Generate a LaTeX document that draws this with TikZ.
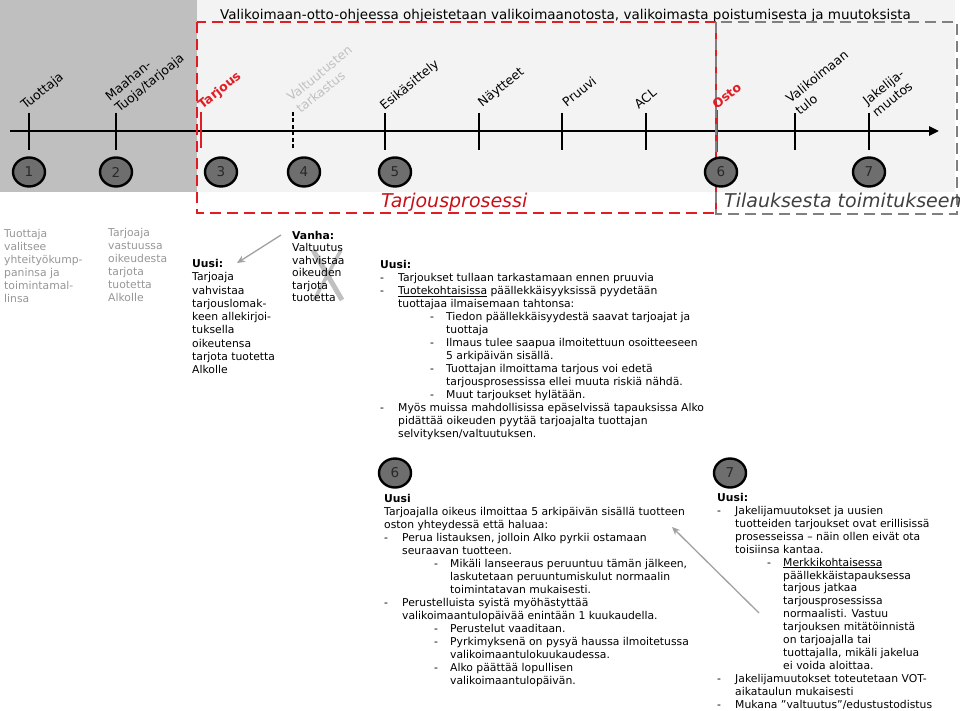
\documentclass[tikz,border=0pt]{standalone}
\usepackage{fontspec}
\setmainfont{DejaVu Sans}
\usetikzlibrary{arrows.meta,shapes.geometric}
\definecolor{bgdark}{RGB}{191,191,191}
\definecolor{bglight}{RGB}{243,243,243}
\definecolor{redl}{RGB}{226,28,36}
\definecolor{redt}{RGB}{200,16,24}
\definecolor{grayd}{RGB}{128,128,128}
\definecolor{lighttxt}{RGB}{150,150,150}
\definecolor{paletxt}{RGB}{192,192,192}
\definecolor{circfill}{RGB}{110,110,110}
\definecolor{numtxt}{RGB}{40,40,40}
\definecolor{tilgray}{RGB}{64,64,64}
\definecolor{arrgray}{RGB}{160,160,160}
\newcommand\bdash{\makebox[18pt][l]{-}}
\newcommand\bcont{\hspace*{18pt}}
\newcommand\cdash{\hspace*{50pt}\makebox[16pt][l]{-}}
\newcommand\ccont{\hspace*{66pt}}
\tikzset{
  tickline/.style={line width=2.2pt},
  reddash/.style={draw=redl,line width=2.7pt,dash pattern=on 11pt off 6pt},
  graydash/.style={draw=grayd,line width=2.7pt,dash pattern=on 11pt off 6pt},
  circ/.style={ellipse,draw=black,line width=2.4pt,fill=circfill,minimum width=32pt,minimum height=29pt,inner sep=0pt,text=numtxt,font=\fontsize{13.5}{15}\selectfont},
  tl/.style={anchor=south west,inner sep=0pt,rotate=39,align=left,font=\fontsize{12.5}{15}\selectfont},
  body/.style={anchor=north west,inner sep=0pt,align=left,font=\fontsize{10.8}{13}\selectfont},
  bigit/.style={anchor=base west,inner sep=0pt,font=\fontsize{19}{22}\selectfont\itshape},
  grayarrow/.style={draw=arrgray,line width=1.3pt,-{Stealth[length=8pt,width=7pt]}}
}
\begin{document}
\begin{tikzpicture}[x=1pt,y=-1pt]
\useasboundingbox (0,0) rectangle (960,711);
% backgrounds
\fill[bgdark] (0,0) rectangle (197,192);
\fill[bglight] (197,0) rectangle (955,192);
% header
\node[anchor=base west,inner sep=0pt,font=\fontsize{13.5}{16}\selectfont] (hdr) at (220,20) {Valikoimaan-otto-ohjeessa ohjeistetaan valikoimaanotosta, valikoimasta poistumisesta ja muutoksista};
% timeline
\coordinate (tl0) at (10,131);
\coordinate (tl1) at (939,131);
\draw[line width=2.6pt,-{Triangle[length=10pt,width=9pt]}] (tl0) -- (tl1);
\foreach \x/\n in {29/a,116/b,385/e,479/f,562/g,646/h,795/j,869/k}{
  \coordinate (ta\n) at (\x,113);
  \coordinate (tb\n) at (\x,150);
  \draw[tickline] (ta\n) -- (tb\n);
}
\coordinate (tac) at (201,112); \coordinate (tbc) at (201,148);
\draw[tickline,draw=redl] (tac) -- (tbc);
\coordinate (tad) at (293,112); \coordinate (tbd) at (293,150);
\draw[line width=1.8pt,dash pattern=on 4pt off 2.5pt] (tad) -- (tbd);
\coordinate (tai) at (717,110); \coordinate (tbi) at (717,152);
\draw[tickline,draw=redl] (tai) -- (tbi);
% dashed boxes
\draw[reddash] (197,22) rectangle (716,213);
\draw[graydash] (716,22) rectangle (957,214);
% timeline labels
\node[tl] (l1) at (27,112) {Tuottaja};
\node[tl] (l2) at (121,115) {Maahan-\\Tuoja/tarjoaja};
\node[tl,text=redl,font=\fontsize{12.5}{15}\selectfont\bfseries] (l3) at (204,112) {Tarjous};
\node[tl,text=paletxt] (l4) at (301,114) {Valtuutusten\\tarkastus};
\node[tl] (l5) at (386,113) {Esikäsittely};
\node[tl] (l6) at (484,110) {Näytteet};
\node[tl] (l7) at (567,108) {Pruuvi};
\node[tl] (l8) at (639,110) {ACL};
\node[tl,text=redl,font=\fontsize{12.5}{15}\selectfont\bfseries] (l9) at (717,110) {Osto};
\node[tl] (l10) at (800,116) {Valikoimaan\\tulo};
\node[tl] (l11) at (877,118) {Jakelija-\\muutos};
% circles
\node[circ] (c1) at (29,172) {1};
\node[circ] (c2) at (116,172) {2};
\node[circ] (c3) at (221,172) {3};
\node[circ] (c4) at (304,172) {4};
\node[circ] (c5) at (395,172) {5};
\node[circ] (c6) at (721,172) {6};
\node[circ] (c7) at (869,172) {7};
% section titles
\node[bigit,text=redt] (tp) at (381,208) {Tarjousprosessi};
\node[bigit,text=tilgray] (tt) at (724,208) {Tilauksesta toimitukseen};
% left columns
\node[body,text=lighttxt] (lc1) at (4,229) {Tuottaja\\valitsee\\yhteityökump-\\paninsa ja\\toimintamal-\\linsa};
\node[body,text=lighttxt] (lc2) at (108,228) {Tarjoaja\\vastuussa\\oikeudesta\\tarjota\\tuotetta\\Alkolle};
% X behind Vanha
\draw[paletxt,line width=5pt] (313,250) -- (342,300);
\draw[paletxt,line width=3.5pt] (341,250) -- (314,300);
\node[body,font=\fontsize{10.8}{13.3}\selectfont] (uusi3) at (192,259) {\textbf{Uusi:}\\Tarjoaja\\vahvistaa\\tarjouslomak-\\keen allekirjoi-\\tuksella\\oikeutensa\\tarjota tuotetta\\Alkolle};
\node[body,font=\fontsize{10.8}{12.5}\selectfont] (vanha) at (292,231) {\textbf{Vanha:}\\Valtuutus\\vahvistaa\\oikeuden\\tarjota\\tuotetta};
\coordinate (va0) at (281,235);
\coordinate (va1) at (237,263);
\draw[grayarrow] (va0) -- (va1);
% middle block
\node[body] (mid) at (380,260) {\textbf{Uusi:}\\
\bdash Tarjoukset tullaan tarkastamaan ennen pruuvia\\
\bdash \underline{Tuotekohtaisissa} päällekkäisyyksissä pyydetään\\
\bcont tuottajaa ilmaisemaan tahtonsa:\\
\cdash Tiedon päällekkäisyydestä saavat tarjoajat ja\\
\ccont tuottaja\\
\cdash Ilmaus tulee saapua ilmoitettuun osoitteeseen\\
\ccont 5 arkipäivän sisällä.\\
\cdash Tuottajan ilmoittama tarjous voi edetä\\
\ccont tarjousprosessissa ellei muuta riskiä nähdä.\\
\cdash Muut tarjoukset hylätään.\\
\bdash Myös muissa mahdollisissa epäselvissä tapauksissa Alko\\
\bcont pidättää oikeuden pyytää tarjoajalta tuottajan\\
\bcont selvityksen/valtuutuksen.};
% bottom circles
\node[circ] (b6) at (395,473) {6};
\node[circ] (b7) at (730,473) {7};
% block 6
\node[body] (blk6) at (384,494) {\textbf{Uusi}\\
Tarjoajalla oikeus ilmoittaa 5 arkipäivän sisällä tuotteen\\
oston yhteydessä että haluaa:\\
\bdash Perua listauksen, jolloin Alko pyrkii ostamaan\\
\bcont seuraavan tuotteen.\\
\cdash Mikäli lanseeraus peruuntuu tämän jälkeen,\\
\ccont laskutetaan peruuntumiskulut normaalin\\
\ccont toimintatavan mukaisesti.\\
\bdash Perustelluista syistä myöhästyttää\\
\bcont valikoimaantulopäivää enintään 1 kuukaudella.\\
\cdash Perustelut vaaditaan.\\
\cdash Pyrkimyksenä on pysyä haussa ilmoitetussa\\
\ccont valikoimaantulokuukaudessa.\\
\cdash Alko päättää lopullisen\\
\ccont valikoimaantulopäivän.};
% block 7
\node[body,font=\fontsize{10.8}{12.94}\selectfont] (blk7) at (717,493) {\textbf{Uusi:}\\
\bdash Jakelijamuutokset ja uusien\\
\bcont tuotteiden tarjoukset ovat erillisissä\\
\bcont prosesseissa – näin ollen eivät ota\\
\bcont toisiinsa kantaa.\\
\cdash \underline{Merkkikohtaisessa}\\
\ccont päällekkäistapauksessa\\
\ccont tarjous jatkaa\\
\ccont tarjousprosessissa\\
\ccont normaalisti. Vastuu\\
\ccont tarjouksen mitätöinnistä\\
\ccont on tarjoajalla tai\\
\ccont tuottajalla, mikäli jakelua\\
\ccont ei voida aloittaa.\\
\bdash Jakelijamuutokset toteutetaan VOT-\\
\bcont aikataulun mukaisesti\\
\bdash Mukana ”valtuutus”/edustustodistus};
\coordinate (ar0) at (759,613);
\coordinate (ar1) at (672,527);
\draw[grayarrow] (ar0) -- (ar1);
\end{tikzpicture}
\end{document}
